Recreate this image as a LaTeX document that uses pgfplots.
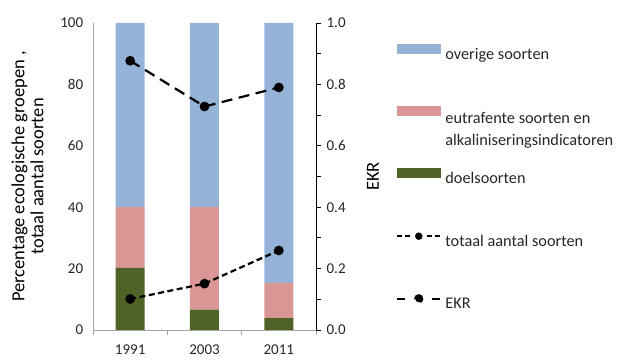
\documentclass[border=0pt]{standalone}
\usepackage{fontspec}
\setmainfont{Carlito}
\usepackage{pgfplots}
\pgfplotsset{compat=1.18}

\definecolor{overig}{HTML}{95B3D7}
\definecolor{eutraf}{HTML}{D99694}
\definecolor{doel}{HTML}{4F6228}
\definecolor{asgrijs}{HTML}{A6A6A6}
\definecolor{tekst}{HTML}{262626}

\pgfplotsset{
  basis/.style={
    at={(93bp,31bp)}, anchor=south west,
    scale only axis, width=223bp, height=307bp,
    xmin=-0.5, xmax=2.5,
    /pgf/number format/assume math mode=true,
    tick label style={text=tekst, font=\fontsize{15bp}{18bp}\selectfont},
    label style={font=\fontsize{18.5bp}{19bp}\selectfont, text=black},
  },
}

\begin{document}
\fontsize{16.3bp}{19bp}\selectfont
\begin{tikzpicture}

% staven (percentages per ecologische groep)
\begin{axis}[basis,
  ymin=0, ymax=100,
  axis x line*=bottom, axis y line*=left,
  axis line style={asgrijs, line width=0.8bp},
  ybar stacked, bar width=29bp,
  xtick={0,1,2}, xticklabels={1991,2003,2011},
  major x tick style={draw=none},
  minor xtick={-0.5,0.5,1.5,2.5},
  minor x tick style={asgrijs, line width=0.8bp},
  minor tick length=5bp,
  tick align=outside,
  ytick={0,20,...,100},
  major y tick style={draw=none},
  xticklabel style={yshift=-5bp},
  ylabel={Percentage ecologische groepen ,\\totaal aantal soorten},
  ylabel style={at={(axis description cs:-0.294,0.5)}, anchor=center, align=center},
]
\addplot[fill=doel, draw=none] coordinates {(0,20.2) (1,6.6) (2,3.9)};
\addplot[fill=eutraf, draw=none] coordinates {(0,19.8) (1,33.4) (2,11.4)};
\addplot[fill=overig, draw=none] coordinates {(0,60) (1,60) (2,84.7)};
\end{axis}

% totaal aantal soorten (linker as)
\begin{axis}[basis, ymin=0, ymax=100, hide axis]
\addplot[black, line width=2.2bp, dash pattern=on 6bp off 3.5bp,
  mark=*, mark size=3.7bp, mark options={solid}]
  coordinates {(0,10.1) (1,15.1) (2,25.9)};
\end{axis}

% EKR (rechter as) + legenda
\begin{axis}[basis,
  ymin=0, ymax=1,
  axis x line=none, axis y line*=right,
  axis line style={black, line width=0.8bp},
  ytick={0,0.2,...,1}, minor ytick={0.1,0.3,...,0.9},
  tick style={black, line width=0.8bp},
  tick align=outside, major tick length=5bp, minor tick length=5bp,
  yticklabel style={/pgf/number format/.cd, fixed, fixed zerofill, precision=1},
  ylabel={EKR},
  ylabel style={at={(axis description cs:1.255,0.5)}, anchor=center, rotate=0},
  legend cell align=left,
  legend style={at={(axis description cs:1.3587,0.943)}, anchor=north west,
    draw=none, fill=none, inner sep=0pt, row sep=0pt, column sep=4bp,
    nodes={inner sep=0pt, text=tekst}},
]
\addlegendimage{legend image code/.code={\path[draw=none] (0bp,-48bp) -- (0bp,14bp);
  \fill[overig] (0bp,1.5bp) rectangle (43bp,10.5bp);}}
\addlegendentry{overige soorten}
\addlegendimage{legend image code/.code={\path[draw=none] (0bp,-48bp) -- (0bp,14bp);
  \fill[eutraf] (0bp,1.5bp) rectangle (43bp,10.5bp);}}
\addlegendentry{{\fontsize{16.3bp}{22.3bp}\selectfont\begin{tabular}[t]{@{}l@{}}eutrafente soorten en\\alkaliniseringsindicatoren\end{tabular}}}
\addlegendimage{legend image code/.code={\path[draw=none] (0bp,-49.5bp) -- (0bp,14bp);
  \fill[doel] (0bp,1.5bp) rectangle (43bp,10.5bp);}}
\addlegendentry{doelsoorten}
\addlegendimage{legend image code/.code={\path[draw=none] (0bp,-48.6bp) -- (0bp,14bp);
  \draw[solid, black, line width=2.2bp] (0bp,6bp)--(5bp,6bp) (8bp,6bp)--(13bp,6bp)
    (30bp,6bp)--(35bp,6bp) (38bp,6bp)--(43bp,6bp);
  \fill[black] (21.5bp,6bp) circle (3.5bp);}}
\addlegendentry{totaal aantal soorten}
\addplot[black, line width=2.2bp, dash pattern=on 11bp off 6.5bp,
  mark=*, mark size=3.7bp, mark options={solid},
  legend image code/.code={\path[draw=none] (0bp,-4bp) -- (0bp,14bp);
  \draw[solid, black, line width=2.2bp] (0bp,6bp)--(8bp,6bp) (35bp,6bp)--(43bp,6bp);
  \fill[black] (21.5bp,6bp) circle (3.5bp);}]
  coordinates {(0,0.877) (1,0.728) (2,0.79)};
\addlegendentry{EKR}
\end{axis}

\pgfresetboundingbox
\useasboundingbox (0bp,0bp) rectangle (620bp,361bp);
\end{tikzpicture}%
\end{document}
